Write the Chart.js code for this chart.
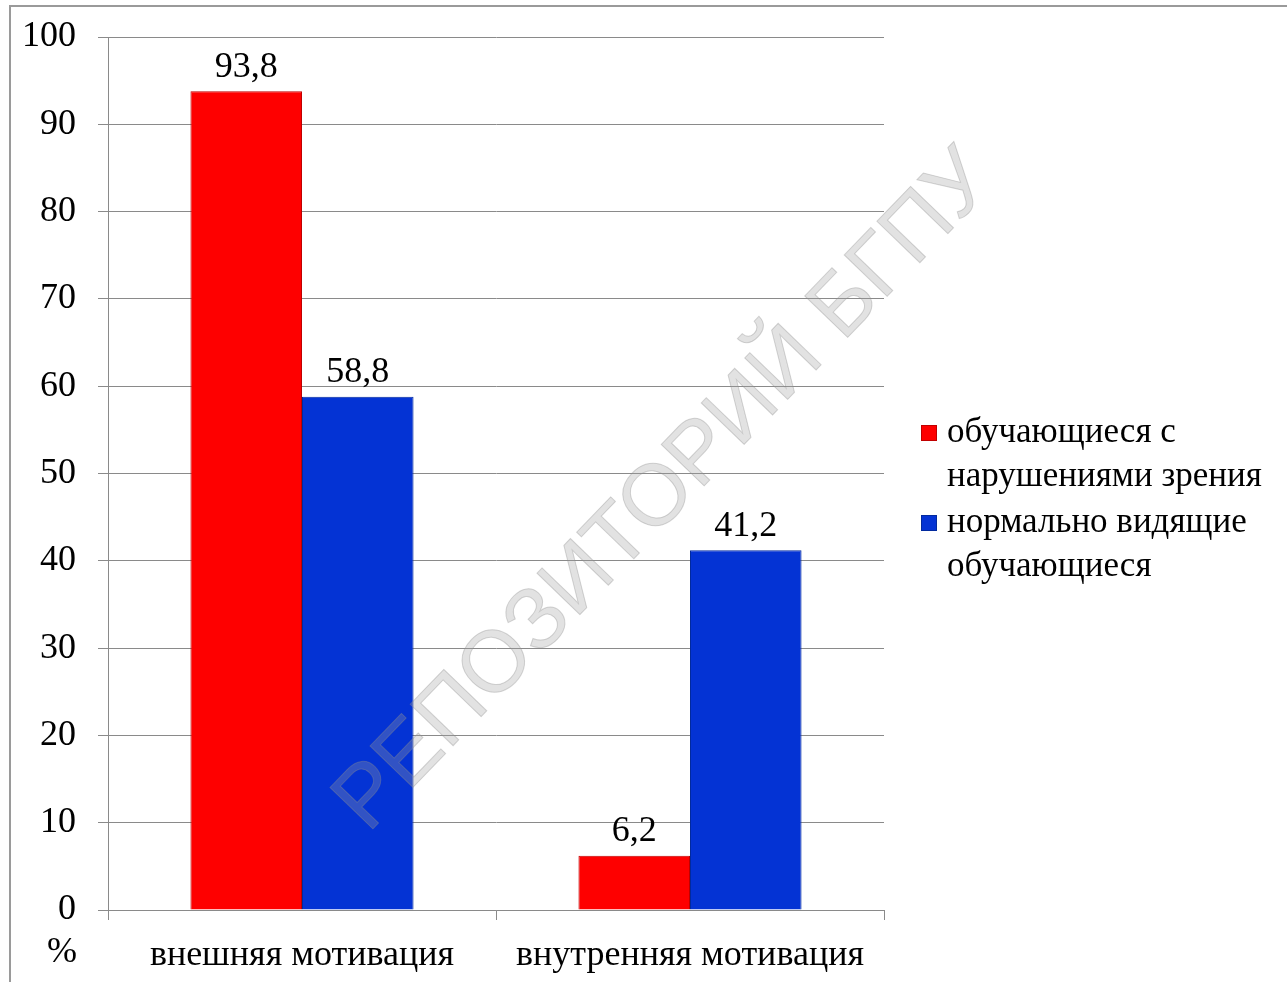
<!DOCTYPE html>
<html>
<head>
<meta charset="utf-8">
<script src="https://cdn.jsdelivr.net/npm/chart.js@4"></script>
<style>
  html, body { margin: 0; padding: 0; background: #fff; }
  #wrap { width: 1287px; height: 982px; position: relative; }
</style>
</head>
<body>
<div id="wrap"><canvas id="bar"></canvas></div>
<script>
const categories = ['внешняя мотивация', 'внутренняя мотивация'];
const seriesNames = [
  ['обучающиеся с', 'нарушениями зрения'],
  ['нормально видящие', 'обучающиеся']
];
const impaired = [93.8, 6.2];
const sighted = [58.8, 41.2];
const yTicks = [0, 10, 20, 30, 40, 50, 60, 70, 80, 90, 100];

const FONT = '"Liberation Serif", "Times New Roman", serif';

// подписи значений над столбиками
const valueLabels = {
  id: 'valueLabels',
  afterDatasetsDraw(chart) {
    const c = chart.ctx;
    c.save();
    c.font = '36px ' + FONT;
    c.fillStyle = '#000';
    c.textAlign = 'center';
    c.textBaseline = 'bottom';
    chart.data.datasets.forEach((ds, i) => {
      chart.getDatasetMeta(i).data.forEach((bar, j) => {
        c.fillText(String(ds.data[j]).replace('.', ','), bar.x, bar.y - 6);
      });
    });
    c.restore();
  }
};

// рамка, легенда справа, знак % и водяной знак
const extras = {
  id: 'extras',
  beforeDraw(chart) {
    const c = chart.ctx;
    c.save();
    c.strokeStyle = '#9a9a9a';
    c.lineWidth = 2;
    c.beginPath();
    c.moveTo(10, 990);
    c.lineTo(10, 6);
    c.lineTo(1300, 6);
    c.stroke();
    c.restore();
  },
  afterDraw(chart) {
    const c = chart.ctx;
    c.save();
    c.font = '35px ' + FONT;
    c.fillStyle = '#000';
    c.textBaseline = 'middle';
    let y = 433;
    chart.data.datasets.forEach((ds) => {
      c.fillStyle = ds.backgroundColor;
      c.fillRect(921, y - 8, 16, 16);
      c.strokeStyle = ds.borderColor;
      c.lineWidth = 1;
      c.strokeRect(921.5, y - 7.5, 15, 15);
      c.fillStyle = '#000';
      ds.legendLines.forEach((line, k) => {
        c.fillText(line, 947, y + k * 44);
      });
      y += 90;
    });

    c.font = '36px ' + FONT;
    c.textAlign = 'center';
    c.fillText('%', 62, 953);

    // водяной знак
    const text = 'РЕПОЗИТОРИЙ БГПУ';
    c.translate(665, 492);
    c.rotate(-46 * Math.PI / 180);
    c.font = '100px "Liberation Sans", Arial, sans-serif';
    const w = c.measureText(text).width;
    const size = 100 * 905 / w;
    c.font = size + 'px "Liberation Sans", Arial, sans-serif';
    c.textAlign = 'center';
    c.textBaseline = 'middle';
    c.fillStyle = 'rgba(160,160,160,0.3)';
    c.fillText(text, 0, 0);
    c.strokeStyle = 'rgba(140,140,140,0.35)';
    c.lineWidth = 1;
    c.strokeText(text, 0, 0);
    c.restore();
  }
};

new Chart(document.getElementById('bar'), {
  type: 'bar',
  data: {
    labels: categories,
    datasets: [{
      label: seriesNames[0].join(' '),
      legendLines: seriesNames[0],
      data: impaired,
      backgroundColor: '#fe0000',
      borderColor: '#c00000',
      borderWidth: 1
    }, {
      label: seriesNames[1].join(' '),
      legendLines: seriesNames[1],
      data: sighted,
      backgroundColor: '#0433d4',
      borderColor: '#022a9e',
      borderWidth: 1
    }]
  },
  plugins: [valueLabels, extras],
  options: {
    responsive: true,
    maintainAspectRatio: false,
    animation: false,
    layout: { padding: { left: 0, right: 403, top: 37, bottom: 0 } },
    plugins: {
      legend: { display: false },
      tooltip: { enabled: false }
    },
    datasets: {
      bar: { categoryPercentage: 0.575, barPercentage: 1 }
    },
    scales: {
      x: {
        afterFit(scale) {
          scale.height = 72;
          scale.paddingLeft = 0;
          scale.paddingRight = 0;
        },
        grid: {
          drawOnChartArea: false,
          drawTicks: true,
          tickLength: 10,
          color: '#8a8a8a',
          offset: true
        },
        border: { color: '#8a8a8a', width: 1 },
        ticks: {
          color: '#000',
          padding: 14,
          font: { family: FONT, size: 36 }
        }
      },
      y: {
        min: 0,
        max: 100,
        afterFit(scale) {
          scale.width = 108;
          scale.paddingTop = 0;
          scale.paddingBottom = 0;
        },
        afterBuildTicks(scale) { scale.ticks = yTicks.map(v => ({ value: v })); },
        grid: {
          color: '#8a8a8a',
          tickLength: 10,
          lineWidth: 1
        },
        border: { color: '#8a8a8a', width: 1 },
        ticks: {
          color: '#000',
          padding: 22,
          font: { family: FONT, size: 36 }
        }
      }
    }
  }
});
</script>
</body>
</html>
